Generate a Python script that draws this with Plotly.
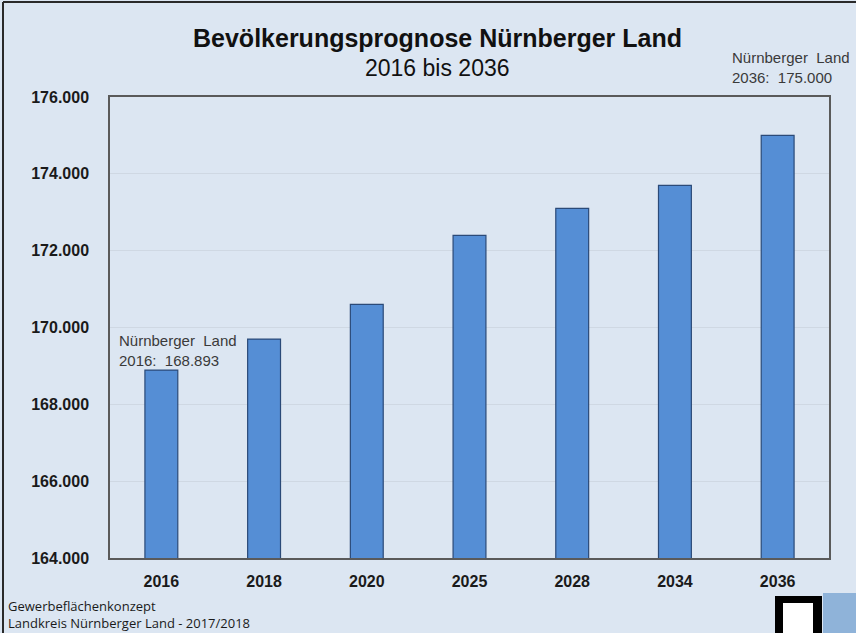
import plotly.graph_objects as go

years = ["2016", "2018", "2020", "2025", "2028", "2034", "2036"]
population = [168893, 169700, 170600, 172400, 173100, 173700, 175000]
y_ticks = [164000, 166000, 168000, 170000, 172000, 174000, 176000]

W, H = 856, 633
L, R, T, B = 110, 27, 97, 75
PW, PH = W - L - R, H - T - B


def px(x):
    return (x - L) / PW


def py(y):
    return (H - B - y) / PH


BG = "#dce6f2"
TICKFONT = dict(size=16, color="#1a1a1a", family="Liberation Sans, Arial", weight="bold")

fig = go.Figure(
    go.Bar(
        x=years,
        y=population,
        width=0.32,
        marker=dict(color="#558ed5", line=dict(color="#2b4a78", width=1.2)),
        hoverinfo="x+y",
    )
)

fig.update_layout(
    width=W,
    height=H,
    margin=dict(l=L, r=R, t=T, b=B),
    paper_bgcolor=BG,
    plot_bgcolor=BG,
    separators=",.",
    showlegend=False,
    font=dict(family="Liberation Sans, Arial, sans-serif", color="#1a1a1a"),
)

fig.update_xaxes(
    type="category",
    showline=True,
    linecolor="#5a5a5a",
    linewidth=1.5,
    mirror=True,
    showgrid=False,
    ticks="",
    tickfont=TICKFONT,
    ticklabelstandoff=8,
)
fig.update_yaxes(
    range=[164000, 176000],
    tickvals=y_ticks,
    tickformat=",d",
    showline=True,
    linecolor="#5a5a5a",
    linewidth=1.5,
    mirror=True,
    showgrid=True,
    gridcolor="#cfd8e3",
    gridwidth=1,
    zeroline=False,
    ticks="",
    tickfont=TICKFONT,
    ticklabelstandoff=16,
)

annotations = [
    dict(text="<b>Bevölkerungsprognose Nürnberger Land</b>", x=px(437), y=py(38),
         font=dict(size=25, color="#111111")),
    dict(text="2016 bis 2036", x=px(437), y=py(68), font=dict(size=23, color="#111111")),
    dict(text="Nürnberger  Land<br>2016:  168.893", x=px(117), y=py(330), xanchor="left",
         yanchor="top", align="left", font=dict(size=15, color="#3a3a3a")),
    dict(text="Nürnberger  Land<br>2036:  175.000", x=px(730), y=py(47), xanchor="left",
         yanchor="top", align="left", font=dict(size=15, color="#3a3a3a")),
    dict(text="Gewerbeflächenkonzept", x=px(6), y=py(606), xanchor="left",
         font=dict(size=13, color="#1a1a1a", family="Open Sans")),
    dict(text="Landkreis Nürnberger Land - 2017/2018", x=px(6), y=py(623), xanchor="left",
         font=dict(size=13, color="#1a1a1a", family="Open Sans")),
]
for a in annotations:
    a.setdefault("xanchor", "center")
    a.setdefault("yanchor", "middle")
    a.update(xref="paper", yref="paper", showarrow=False)
fig.update_layout(annotations=annotations)

shapes = [
    # outer frame
    dict(type="line", x0=px(3), x1=px(860), y0=py(2), y1=py(2), line=dict(color="#2a2a2a", width=2)),
    dict(type="line", x0=px(3), x1=px(3), y0=py(2), y1=py(640), line=dict(color="#2a2a2a", width=2)),
    # logo
    dict(type="rect", x0=px(775), x1=px(822), y0=py(596), y1=py(640), fillcolor="black",
         line=dict(width=0)),
    dict(type="rect", x0=px(783), x1=px(813), y0=py(603), y1=py(640), fillcolor="white",
         line=dict(width=0)),
    dict(type="rect", x0=px(823), x1=px(860), y0=py(593), y1=py(640), fillcolor="#8fb3d9",
         line=dict(width=0)),
]
for s in shapes:
    s.update(xref="paper", yref="paper", layer="above")
fig.update_layout(shapes=shapes)

fig.write_html("out.html")
